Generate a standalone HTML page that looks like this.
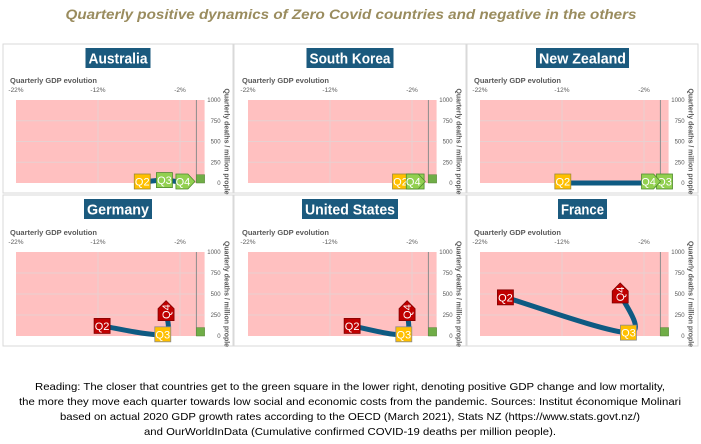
<!DOCTYPE html>
<html><head><meta charset="utf-8"><style>
html,body{margin:0;padding:0;background:#fff;}
svg{display:block;font-family:"Liberation Sans",sans-serif;}
</style></head><body>
<svg id="chart" width="701" height="444" viewBox="0 0 701 444" xmlns="http://www.w3.org/2000/svg">
<text x="351" y="19" text-anchor="middle" font-size="14" font-weight="bold" font-style="italic" fill="#9a8c5e" textLength="571" lengthAdjust="spacingAndGlyphs">Quarterly positive dynamics of Zero Covid countries and negative in the others</text>
<g id="panels"></g>
<g font-size="10.5" fill="#000" text-anchor="middle">
<text x="350" y="390" textLength="630" lengthAdjust="spacingAndGlyphs">Reading: The closer that countries get to the green square in the lower right, denoting positive GDP change and low mortality,</text>
<text x="350" y="405" textLength="662" lengthAdjust="spacingAndGlyphs">the more they move each quarter towards low social and economic costs from the pandemic. Sources: Institut économique Molinari</text>
<text x="350" y="420" textLength="580" lengthAdjust="spacingAndGlyphs">based on actual 2020 GDP growth rates according to the OECD (March 2021), Stats NZ (https://www.stats.govt.nz/)</text>
<text x="350" y="435" textLength="412" lengthAdjust="spacingAndGlyphs">and OurWorldInData  (Cumulative confirmed COVID-19 deaths per million people).</text>
</g>
</svg>
<script>
const countries = ["Australia","South Korea","New Zealand","Germany","United States","France"];
const zeroCovid = [true,true,true,false,false,false];
const gdpQ2 = [-6.6,-3.4,-11.9,-11.5,-9.3,-18.9];
const gdpQ3 = [-3.9,-1.5,0.5,-4.1,-3.0,-3.9];
const gdpQ4 = [-1.4,-1.6,-1.2,-3.7,-2.6,-4.9];
const deathsQ2 = [10,5,0,120,120,460];
const deathsQ3 = [35,5,0,20,20,40];
const deathsQ4 = [0,5,0,290,290,500];
const xTicks = [-22,-12,-2];
const xTickLabels = ["-22%","-12%","-2%"];
const yTicks = [0,250,500,750,1000];
const yTickLabels = ["0","250","500","750","1000"];

const NS="http://www.w3.org/2000/svg";
const root=document.getElementById('panels');
function mk(tag,attrs,parent){const e=document.createElementNS(NS,tag);for(const k in attrs)e.setAttribute(k,attrs[k]);(parent||root).appendChild(e);return e;}

const colL=[3,234,467], colW=[230,232,231];
const pinkLeft=[16,248,480];
const rowTop=[44,195], rowH=[149,151];
const plotTop=[100,252], plotBot=[183,336];
const titleW=[65,87,93,68,96,49];
const xMin=-22,xMax=1,pxPer=8.2;

countries.forEach((name,i)=>{
  const c=i%3,r=Math.floor(i/3);
  const g=mk('g',{});
  
  
  const X=v=>pinkLeft[c]+(v-xMin)*pxPer;
  const Y=v=>plotBot[r]-(v/1000)*(plotBot[r]-plotTop[r]);
  const border=mk('rect',{x:colL[c],y:rowTop[r],width:colW[c],height:rowH[r],fill:'#fff',stroke:'#d9d9d9','stroke-width':1},g);
  
  
  const cx=colL[c]+colW[c]/2;
  const tw=titleW[i];
  const tb=mk('rect',{x:cx-tw/2,y:rowTop[r]+4,width:tw,height:20,fill:'#1b5a7e'},g);
  
  
  const tt=mk('text',{x:cx,y:rowTop[r]+19.5,'text-anchor':'middle','font-size':15,'font-weight':'bold',fill:'#fff',textLength:tw-6,lengthAdjust:'spacingAndGlyphs'},g);
  
  
  tt.textContent=name;
  const at=mk('text',{x:pinkLeft[c]-6,y:plotTop[r]-17,'font-size':7.5,'font-weight':'bold',fill:'#595959'},g);
  
  
  at.textContent='Quarterly GDP evolution';
  const pk=mk('rect',{x:X(xMin),y:Y(1000),width:X(xMax)-X(xMin),height:Y(0)-Y(1000),fill:'#ffc0c0'},g);
  
  
  yTicks.forEach((t,k)=>{
    if(t>0&&t<1000){const l=mk('line',{x1:X(xMin),x2:X(xMax),y1:Y(t),y2:Y(t),stroke:'#e8d0d0','stroke-width':1},g);
    
    }
    const lb=mk('text',{x:X(xMax)+16,y:Y(t)+2,'text-anchor':'end','font-size':6,fill:'#595959'},g);
    
    
    lb.textContent=yTickLabels[k];
  });
  xTicks.forEach((t,k)=>{
    if(t>xMin){const l=mk('line',{x1:X(t),x2:X(t),y1:Y(0),y2:Y(1000),stroke:'#e8d0d0','stroke-width':1},g);
    
    }
    const lb=mk('text',{x:X(t),y:plotTop[r]-8,'text-anchor':'middle','font-size':6.5,fill:'#595959'},g);
    
    
    lb.textContent=xTickLabels[k];
  });
  const zl=mk('line',{x1:X(0),x2:X(0),y1:Y(0),y2:Y(1000),stroke:'#8c8c8c','stroke-width':1},g);
  
  
  const yt=mk('text',{transform:`translate(${X(xMax)+20},${(plotTop[r]+plotBot[r])/2}) rotate(90)`,'text-anchor':'middle','font-size':7.5,'font-weight':'bold',fill:'#595959',textLength:106,lengthAdjust:'spacingAndGlyphs'},g);
  
  
  yt.textContent='Quarterly deaths / million prople';
  const gs=mk('rect',{x:X(0),y:Y(100),width:X(1)-X(0),height:Y(0)-Y(100),fill:'#70ad47',stroke:'#548235','stroke-width':0.5},g);
  
  
  const pts=[[X(gdpQ2[i]),Y(deathsQ2[i])],[X(gdpQ3[i]),Y(deathsQ3[i])],[X(gdpQ4[i]),Y(deathsQ4[i])]];
  let d=`M${pts[0][0]},${pts[0][1]}`;
  for(let k=0;k<pts.length-1;k++){
    const p0=pts[Math.max(k-1,0)],p1=pts[k],p2=pts[k+1],p3=pts[Math.min(k+2,pts.length-1)];
    const c1=[p1[0]+(p2[0]-p0[0])/6,p1[1]+(p2[1]-p0[1])/6],c2=[p2[0]-(p3[0]-p1[0])/6,p2[1]-(p3[1]-p1[1])/6];
    d+=` C${c1[0]},${c1[1]} ${c2[0]},${c2[1]} ${p2[0]},${p2[1]}`;
  }
  const pl=mk('path',{d:d,fill:'none',stroke:'#0e5a82','stroke-width':5,'stroke-linecap':'round','stroke-linejoin':'round'},g);
  
  
  const z=zeroCovid[i];
  const colors=z?['#ffc000','#92d050','#92d050']:['#c00000','#ffc000','#c00000'];
  const strokes=z?['#9e8a3a','#4e8a2e','#4e8a2e']:['#7f0000','#8a8a8a','#7f0000'];
  const labs=['Q2','Q3','Q4'];
  const order=z?[0,1,2]:[0,2,1];
  order.forEach(k=>{
    let [px,py]=pts[k];
    py=Math.min(py,plotBot[r]-1.5);
    const mg=mk('g',{},g);
    
    
    if(k===2&&z){
      mk('polygon',{points:`${px-9},${py-7.5} ${px+3},${py-7.5} ${px+10},${py} ${px+3},${py+7.5} ${px-9},${py+7.5}`,fill:colors[k],stroke:strokes[k],'stroke-width':0.8},mg);
      const t=mk('text',{x:px-2,y:py+4,'text-anchor':'middle','font-size':11,fill:'#fff'},mg);t.textContent=labs[k];
    }else if(k===2){
      mk('polygon',{points:`${px-8},${py+9} ${px-8},${py-3} ${px},${py-11} ${px+8},${py-3} ${px+8},${py+9}`,fill:colors[k],stroke:strokes[k],'stroke-width':0.8},mg);
      const t=mk('text',{transform:`translate(${px+4},${py}) rotate(-90)`,'text-anchor':'middle','font-size':11,fill:'#fff'},mg);t.textContent=labs[k];
    }else{
      mk('rect',{x:px-8,y:py-7.5,width:16,height:15,fill:colors[k],stroke:strokes[k],'stroke-width':0.8},mg);
      const t=mk('text',{x:px,y:py+4,'text-anchor':'middle','font-size':11,fill:'#fff'},mg);t.textContent=labs[k];
    }
  });
});
</script>
</body></html>
